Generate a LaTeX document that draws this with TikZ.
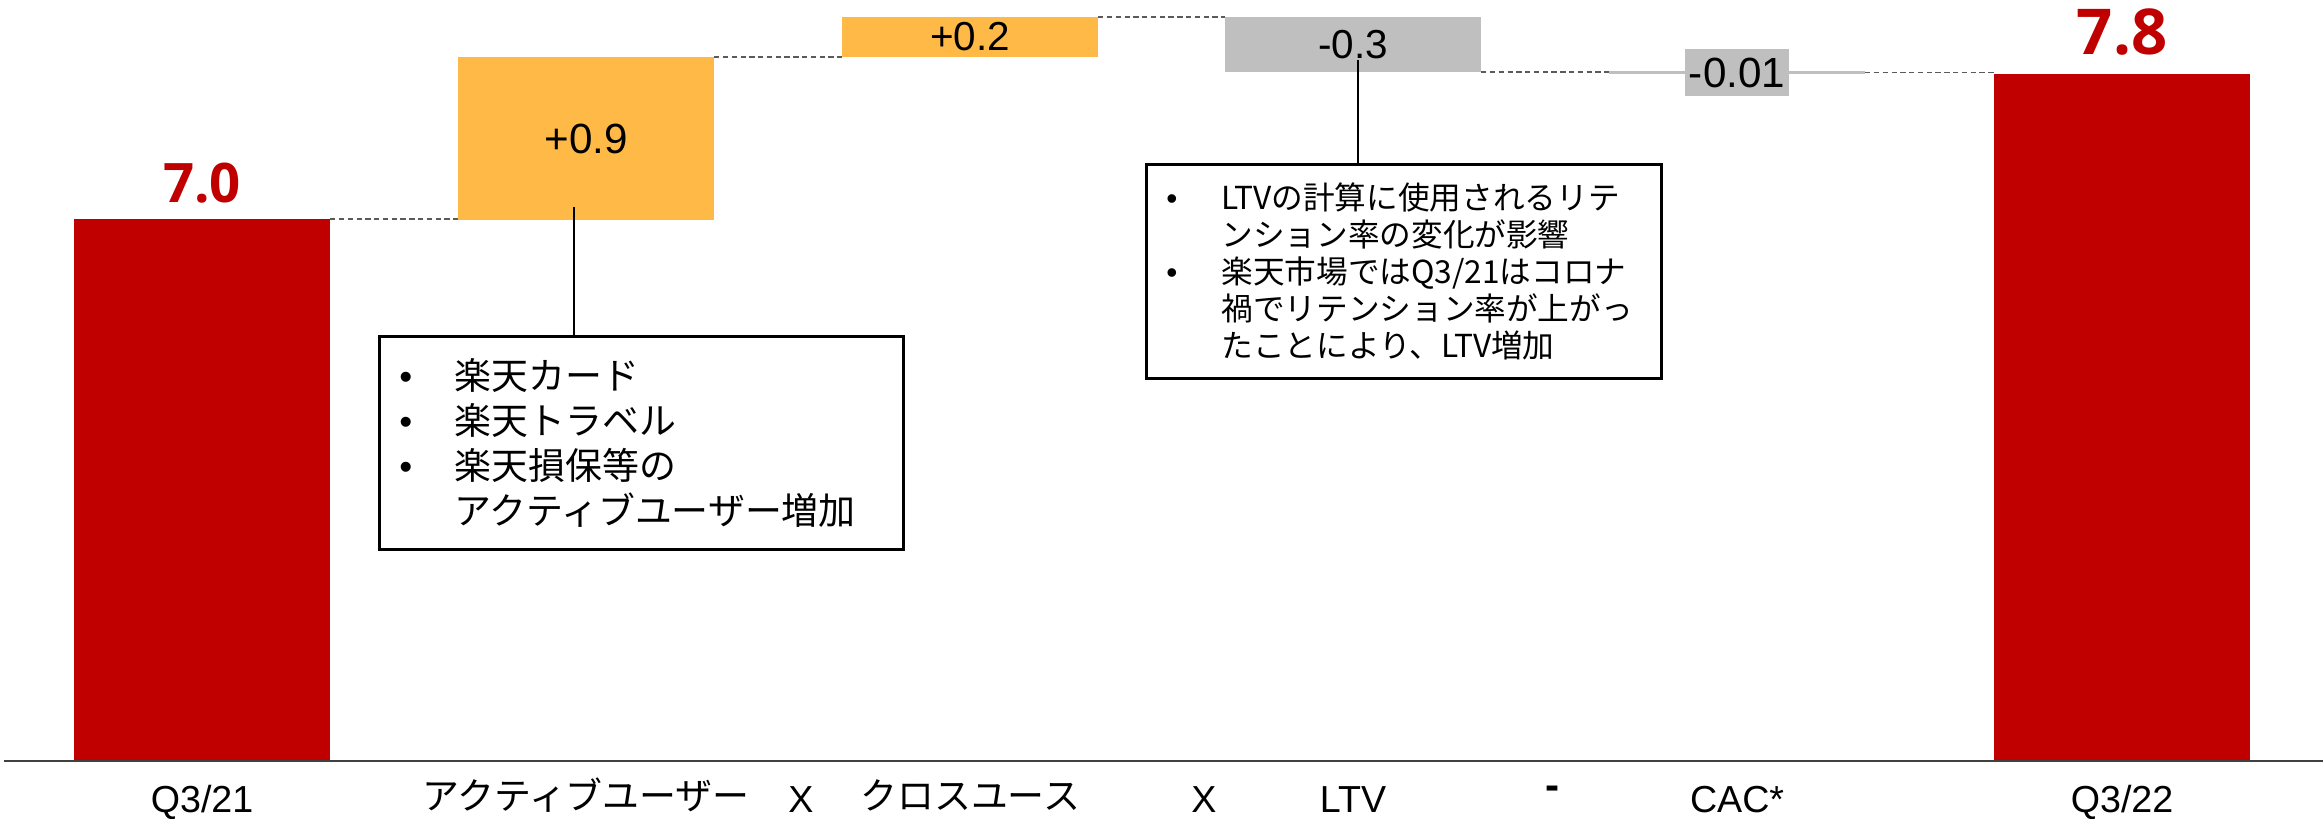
\documentclass[tikz,border=0pt]{standalone}
\usepackage{fontspec}
\setmainfont{Liberation Sans}
\newfontfamily\jpfont{Noto Sans CJK JP}
\newfontfamily\numfont{Open Sans}
\usepackage{tikz}
\usetikzlibrary{positioning, calc}
\definecolor{BarRed}{RGB}{192,0,0}
\definecolor{BarOrange}{RGB}{255,185,70}
\definecolor{BarGray}{RGB}{191,191,191}
\definecolor{DashGray}{RGB}{90,90,90}
\definecolor{AxisGray}{RGB}{64,64,64}
\newcommand{\bul}{\makebox[0.55cm][l]{\rmfamily •}}
\newcommand{\ind}{\hspace*{0.55cm}}

\begin{document}
\begin{tikzpicture}[x=0.01cm, y=-0.01cm,
    bar/.style={inner sep=0pt, outer sep=0pt, minimum width=2.56cm, anchor=north west},
    total/.style={text=BarRed, inner sep=0pt, font=\numfont\bfseries},
    axlabel/.style={anchor=base, inner sep=0pt, font=\fontsize{10.7pt}{12pt}\selectfont},
    link/.style={DashGray, line width=0.55pt, dash pattern=on 1.5pt off 1pt},
    leader/.style={black, line width=0.5pt},
    note/.style={draw=black, line width=0.8pt, anchor=north west, align=left,
        inner xsep=0.2cm, inner ysep=0pt}]

    \useasboundingbox (0,0) rectangle (2323,819);

    % bars
    \node[bar, fill=BarRed, minimum height=5.42cm] (q21) at (74,219) {};
    \node[bar, fill=BarOrange, minimum height=1.63cm,
        font=\fontsize{12pt}{14pt}\selectfont] (act) at (458,57) {+0.9};
    \node[bar, fill=BarOrange, minimum height=0.40cm,
        font=\fontsize{11.5pt}{13pt}\selectfont] (cross) at (842,17) {+0.2};
    \node[bar, fill=BarGray, minimum height=0.55cm,
        font=\fontsize{11.5pt}{13pt}\selectfont] (ltv) at (1225,17) {-0.3};
    \node[bar, fill=BarGray, minimum height=0.03cm] (cac) at (1609,71) {};
    \node[fill=BarGray, inner sep=0pt, minimum width=1.04cm, minimum height=0.47cm,
        font=\fontsize{12pt}{14pt}\selectfont] (cacv) at (cac.center) {-0.01};
    \node[bar, fill=BarRed, minimum height=6.87cm] (q22) at (1994,74) {};

    % totals
    \node[total, above=0.15cm of q21, font=\numfont\bfseries\fontsize{15.5pt}{18pt}\selectfont] (v21) {7.0};
    \node[total, above=0.18cm of q22, font=\numfont\bfseries\fontsize{18pt}{21pt}\selectfont] (v22) {7.8};

    % dashed steps
    \draw[link] (q21.north east) -- (q21.north east -| act.west);
    \draw[link] (act.north east) -- (act.north east -| cross.west);
    \draw[link] (cross.north east) -- (cross.north east -| ltv.west);
    \draw[link] (ltv.south east) -- (ltv.south east -| cac.west);
    \draw[link] (cac.east) -- (cac.east -| q22.west);

    % axis
    \coordinate (axL) at (4,761);
    \coordinate (axR) at (2323,761);
    \draw[AxisGray, line width=0.6pt] (axL) -- (axR);

    % axis labels
    \node[axlabel] (l21) at (q21.south |- 0,813) {Q3/21};
    \node[axlabel, font=\jpfont\fontsize{10.5pt}{12pt}\selectfont] (lact) at (act.south |- 0,810) {アクティブユーザー};
    \node[axlabel] (op1) at (801,813) {X};
    \node[axlabel, font=\jpfont\fontsize{10.5pt}{12pt}\selectfont] (lcross) at (cross.south |- 0,810) {クロスユース};
    \node[axlabel] (op2) at (1204,813) {X};
    \node[axlabel] (lltv) at (ltv.south |- 0,813) {LTV};
    \node[axlabel, font=\bfseries\fontsize{12pt}{14pt}\selectfont] (op3) at (1553,800) {-};
    \node[axlabel] (lcac) at (cac.south |- 0,813) {CAC*};
    \node[axlabel] (l22) at (q22.south |- 0,813) {Q3/22};

    % notes
    \node[note, text width=4.84cm, minimum height=2.13cm,
        font=\jpfont\fontsize{10.5pt}{12.8pt}\selectfont] (n1) at (378,335)
        {\bul 楽天カード\\ \bul 楽天トラベル\\ \bul 楽天損保等の\\ \ind アクティブユーザー増加};
    \node[note, text width=4.75cm, minimum height=2.14cm,
        font=\jpfont\fontsize{9pt}{10.5pt}\selectfont] (n2) at (1145,163)
        {\bul LTVの計算に使用されるリテ\\ \ind ンション率の変化が影響\\ \bul 楽天市場ではQ3/21はコロナ\\ \ind 禍でリテンション率が上がっ\\ \ind たことにより、LTV増加};

    % leaders
    \coordinate (a1) at (574,207);
    \coordinate (a2) at (1358,60);
    \draw[leader] (a1) -- (a1 |- n1.north);
    \draw[leader] (a2) -- (a2 |- n2.north);

\end{tikzpicture}
\end{document}
